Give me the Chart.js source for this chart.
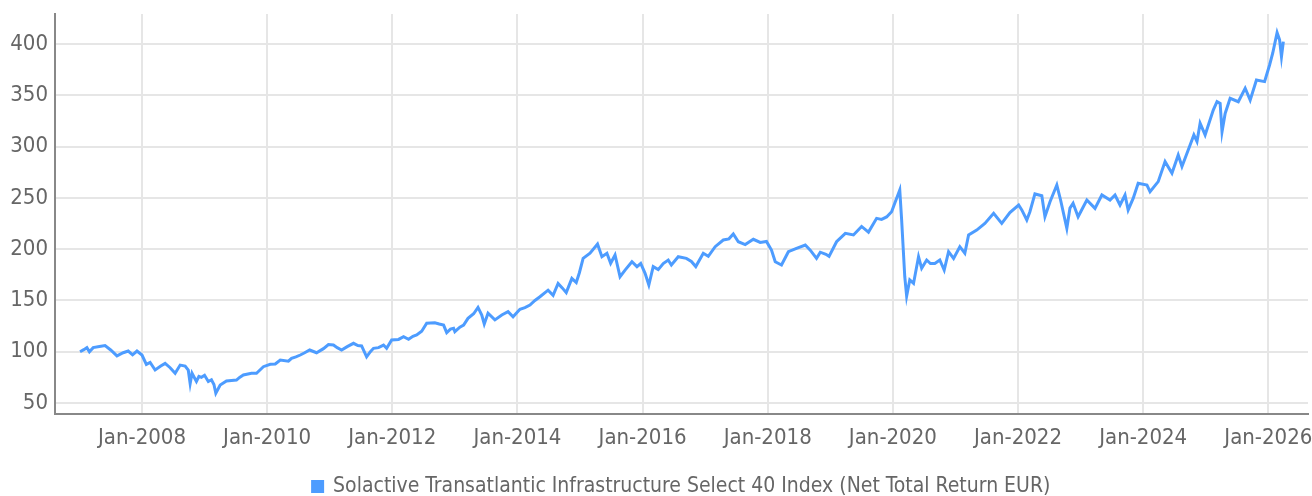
<!DOCTYPE html>
<html>
<head>
<meta charset="utf-8">
<script src="https://cdn.jsdelivr.net/npm/chart.js@4"></script>
<style>
  html, body { margin: 0; padding: 0; background: #fff; }
  #wrap { width: 1312px; height: 496px; }
</style>
</head>
<body>
<div id="wrap"><canvas id="indexChart" width="1312" height="496"></canvas></div>
<script>
// dates as decimal years
const years = [
  2007.01, 2007.07, 2007.12, 2007.16, 2007.22, 2007.32, 2007.41, 2007.50, 2007.60, 2007.70,
  2007.78, 2007.85, 2007.92, 2008.00, 2008.07, 2008.13, 2008.21, 2008.30, 2008.37, 2008.45,
  2008.53, 2008.61, 2008.69, 2008.74, 2008.77, 2008.80, 2008.87, 2008.91, 2008.95, 2009.00,
  2009.06, 2009.11, 2009.15, 2009.18, 2009.25, 2009.35, 2009.43, 2009.51, 2009.56, 2009.62,
  2009.75, 2009.83, 2009.94, 2010.05, 2010.13, 2010.21, 2010.34, 2010.39, 2010.46, 2010.53,
  2010.60, 2010.68, 2010.79, 2010.90, 2010.98, 2011.06, 2011.12, 2011.19, 2011.28, 2011.38,
  2011.45, 2011.51, 2011.59, 2011.65, 2011.70, 2011.78, 2011.86, 2011.91, 2011.99, 2012.10,
  2012.18, 2012.26, 2012.33, 2012.39, 2012.47, 2012.55, 2012.68, 2012.75, 2012.82, 2012.87,
  2012.93, 2012.98, 2013.00, 2013.08, 2013.14, 2013.21, 2013.30, 2013.37, 2013.43, 2013.47,
  2013.53, 2013.64, 2013.75, 2013.85, 2013.93, 2014.04, 2014.12, 2014.20, 2014.28, 2014.36,
  2014.49, 2014.57, 2014.65, 2014.72, 2014.78, 2014.87, 2014.94, 2014.99, 2015.05, 2015.16,
  2015.28, 2015.35, 2015.43, 2015.49, 2015.56, 2015.64, 2015.72, 2015.83, 2015.91, 2015.97,
  2016.04, 2016.10, 2016.17, 2016.25, 2016.33, 2016.41, 2016.46, 2016.57, 2016.70, 2016.78,
  2016.85, 2016.97, 2017.05, 2017.16, 2017.29, 2017.38, 2017.45, 2017.53, 2017.64, 2017.77,
  2017.88, 2017.98, 2018.06, 2018.12, 2018.22, 2018.33, 2018.46, 2018.60, 2018.68, 2018.78,
  2018.84, 2018.93, 2018.98, 2019.10, 2019.24, 2019.37, 2019.50, 2019.61, 2019.74, 2019.82,
  2019.90, 2019.98, 2020.03, 2020.11, 2020.14, 2020.19, 2020.22, 2020.27, 2020.33, 2020.41,
  2020.46, 2020.54, 2020.60, 2020.67, 2020.75, 2020.82, 2020.89, 2020.97, 2021.07, 2021.15,
  2021.21, 2021.34, 2021.47, 2021.61, 2021.74, 2021.87, 2022.01, 2022.06, 2022.14, 2022.19,
  2022.27, 2022.38, 2022.43, 2022.51, 2022.62, 2022.68, 2022.78, 2022.83, 2022.88, 2022.96,
  2023.10, 2023.23, 2023.34, 2023.47, 2023.55, 2023.63, 2023.71, 2023.76, 2023.84, 2023.92,
  2024.06, 2024.11, 2024.24, 2024.35, 2024.46, 2024.56, 2024.62, 2024.75, 2024.81, 2024.86,
  2024.91, 2024.99, 2025.12, 2025.18, 2025.23, 2025.26, 2025.31, 2025.39, 2025.52, 2025.63,
  2025.71, 2025.81, 2025.94, 2026.02, 2026.07, 2026.14, 2026.18, 2026.21, 2026.24
];

const indexValues = [
  100, 102, 104, 100, 104, 105, 106, 101.7, 96, 99,
  100.7, 97, 100.7, 96.8, 87.7, 89.6, 82.2, 86, 88.6, 84.4,
  79, 87, 86, 82, 69, 79, 71, 76, 75, 77,
  71, 72.7, 68, 59.5, 67.5, 71.4, 72, 72.4, 75, 77.3,
  79, 79, 85.4, 87.7, 88, 91.9, 90.8, 93.6, 95, 96.8,
  99, 101.7, 99, 103, 107, 106.5, 104, 101.7, 105, 108.2,
  106, 105.6, 95, 100, 103.3, 104, 106.5, 103.3, 111.4, 112,
  114.6, 112.1, 115, 116.3, 120, 127.7, 128.3, 127, 126, 118.6,
  122, 122.8, 119.5, 124, 126, 132.5, 137, 143.2, 135.8, 127,
  137.5, 131, 135.8, 139, 134, 141.3, 143, 145.5, 150, 153.6,
  160, 155, 166.6, 162, 157.6, 171.5, 167.5, 177, 191, 196,
  205, 192.6, 196, 186.2, 194.3, 173.1, 179.6, 187.7, 182.9, 186,
  176.4, 165, 182.9, 180, 186, 189.4, 184.6, 192.6, 191, 188,
  183, 196, 193, 202.4, 208.9, 210, 214.7, 207.2, 204.5, 209.6,
  206.5, 207.5, 199.1, 187.7, 184.5, 197.5, 200.7, 204, 199, 191,
  197, 195, 193, 207.2, 215.4, 213.8, 222.1, 216.6, 230, 229,
  231.4, 236.5, 244.7, 257.6, 228.4, 173.1, 154.3, 170, 166.6, 192.6,
  181.3, 189.4, 186, 186, 189.4, 179.6, 197.5, 191, 202.4, 196,
  213.8, 218.6, 225.1, 234.9, 225.1, 235.6, 243, 238.2, 228.4, 236.5,
  253.8, 252, 231.6, 246, 262.5, 247.9, 220.3, 240, 244.7, 231.6,
  247.9, 239.7, 252.8, 247.9, 252.8, 243, 252.8, 238.2, 249.5, 264.2,
  262.5, 256, 265.8, 285.3, 274, 291.8, 280.5, 301.5, 311.3, 304.8,
  322.7, 311.3, 335.6, 343.7, 342, 314.5, 332.3, 347, 343.7, 356.8,
  345.3, 364.9, 363.3, 379.5, 391, 411, 403.9, 387.6, 402.3
];

const xTickYears = [2008, 2010, 2012, 2014, 2016, 2018, 2020, 2022, 2024, 2026];
const yTickValues = [50, 100, 150, 200, 250, 300, 350, 400];

const seriesLabel = 'Solactive Transatlantic Infrastructure Select 40 Index (Net Total Return EUR)';

const lineColor = '#4d9cff';
const textColor = '#666666';
const fontFamily = "'DejaVu Sans Condensed', 'Liberation Sans Narrow', sans-serif";
const padBottom = -11;

const points = years.map((y, i) => ({ x: y, y: indexValues[i] }));

const ctx = document.getElementById('indexChart').getContext('2d');
new Chart(ctx, {
    type: 'line',
    data: {
        datasets: [{
            label: seriesLabel,
            data: points,
            borderColor: lineColor,
            backgroundColor: lineColor,
            borderWidth: 3,
            pointRadius: 0,
            tension: 0,
        }],
    },
    options: {
        responsive: false,
        animation: false,
        layout: { padding: { top: 14, right: 4, left: 0, bottom: padBottom } },
        scales: {
            x: {
                type: 'linear',
                min: 2006.61,
                max: 2026.634,
                afterBuildTicks: scale => {
                    scale.ticks = xTickYears.map(v => ({ value: v }));
                },
                afterFit: scale => {
                    const lg = scale.chart.legend;
                    const legendHeight = (lg && Number.isFinite(lg.height) && lg.height > 0) ? lg.height : 37;
                    scale.height = scale.chart.height - 414 - legendHeight - padBottom;
                    scale.paddingLeft = 0;
                    scale.paddingRight = 0;
                },
                grid: { color: '#e6e6e6', lineWidth: 2, drawTicks: false },
                border: { display: true, color: '#888888', width: 2 },
                ticks: {
                    color: textColor,
                    font: { family: fontFamily, size: 22 },
                    padding: 11,
                    maxRotation: 0,
                    autoSkip: false,
                    callback: value => 'Jan-' + value,
                },
            },
            y: {
                min: 39.3,
                max: 429.2,
                afterBuildTicks: scale => {
                    scale.ticks = yTickValues.map(v => ({ value: v }));
                },
                afterFit: scale => {
                    scale.width = 55;
                    scale.paddingTop = 0;
                    scale.paddingBottom = 0;
                },
                grid: { color: '#e6e6e6', lineWidth: 2, drawTicks: false },
                border: { display: true, color: '#888888', width: 2 },
                ticks: {
                    color: textColor,
                    font: { family: fontFamily, size: 22 },
                    padding: 7,
                },
            },
        },
        plugins: {
            legend: {
                position: 'bottom',
                fullSize: false,
                labels: {
                    color: textColor,
                    font: { family: fontFamily, size: 21 },
                    boxWidth: 10,
                    boxHeight: 10,
                    padding: 6,
                },
            },
            tooltip: { enabled: false },
        },
    },
});
</script>
</body>
</html>
